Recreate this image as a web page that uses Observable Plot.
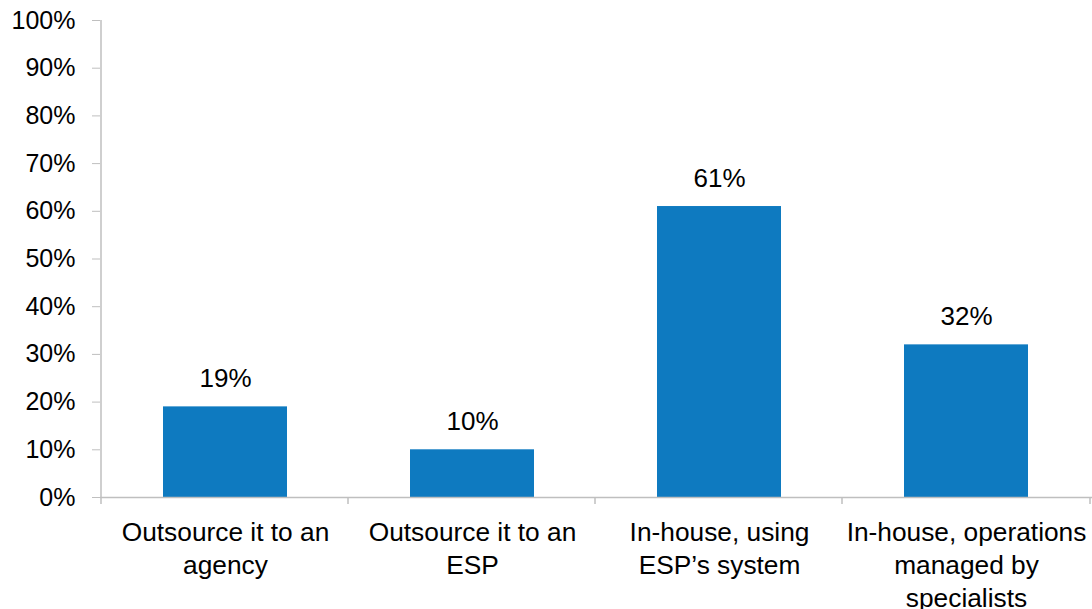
<!DOCTYPE html>
<html>
<head>
<meta charset="utf-8">
<script src="https://cdn.jsdelivr.net/npm/d3@7"></script>
<script src="https://cdn.jsdelivr.net/npm/@observablehq/plot@0.6"></script>
<style>
  html, body { margin: 0; padding: 0; background: #fff; }
  svg { display: block; }
</style>
</head>
<body>
<div id="chart"></div>
<script>
const categories = [
  "Outsource it to an agency",
  "Outsource it to an ESP",
  "In-house, using ESP’s system",
  "In-house, operations managed by specialists"
];
const tickLabels = [
  "Outsource it to an\nagency",
  "Outsource it to an\nESP",
  "In-house, using\nESP’s system",
  "In-house, operations\nmanaged by\nspecialists"
];
const values = [19, 10, 61, 32];
const yTicks = [0, 10, 20, 30, 40, 50, 60, 70, 80, 90, 100];

const data = categories.map((c, i) => ({category: c, value: values[i]}));
const labelOf = new Map(categories.map((c, i) => [c, tickLabels[i]]));

const axisColor = "#bfbfbf";
const textColor = "#000000";
const font = "Liberation Sans, Arial, sans-serif";

const chart = Plot.plot({
  width: 1092,
  height: 609,
  marginLeft: 100,
  marginRight: 2,
  marginTop: 20,
  marginBottom: 112,
  style: {fontFamily: font, fontSize: "25px", color: textColor, background: "#fff"},
  x: {domain: categories, paddingInner: 0.5, paddingOuter: 0.25},
  y: {domain: [0, 100]},
  marks: [
    Plot.axisY({
      ticks: yTicks,
      tickFormat: d => d + "%",
      tickSize: 8,
      tickPadding: 17,
      stroke: axisColor,
      fill: textColor,
      fontSize: 25,
      label: null
    }),
    Plot.axisX({
      tickSize: 0,
      tickPadding: 20,
      tickFormat: d => labelOf.get(d),
      lineHeight: 1.25,
      fill: textColor,
      fontSize: 26.3,
      label: null
    }),
    Plot.barY(data, {x: "category", y: "value", fill: "#0e7ac0"}),
    Plot.ruleY([0], {stroke: axisColor, strokeWidth: 1.5, insetRight: -2}),
    Plot.text(data, {
      x: "category",
      y: "value",
      text: d => d.value + "%",
      dy: -28,
      fill: textColor,
      fontSize: 26
    })
  ]
});

// y-axis line and category boundary ticks, placed via the plot's own scales
const xs = chart.scale("x");
const ys = chart.scale("y");
const svg = d3.select(chart);
const step = xs.bandwidth / (1 - 0.5);
const gap = (step - xs.bandwidth) / 2;
const y0 = ys.apply(0);
const y100 = ys.apply(100);
const x0 = xs.apply(categories[0]) - gap;
svg.append("line")
  .attr("x1", x0).attr("x2", x0)
  .attr("y1", y100).attr("y2", y0)
  .attr("stroke", axisColor).attr("stroke-width", 1.5);
const bounds = categories.map(c => xs.apply(c) - gap)
  .concat([xs.apply(categories[categories.length - 1]) + xs.bandwidth + gap]);
svg.append("g").selectAll("line").data(bounds).join("line")
  .attr("x1", d => d).attr("x2", d => d)
  .attr("y1", y0).attr("y2", y0 + 7)
  .attr("stroke", axisColor).attr("stroke-width", 1.5);

document.getElementById("chart").appendChild(chart);
</script>
</body>
</html>
